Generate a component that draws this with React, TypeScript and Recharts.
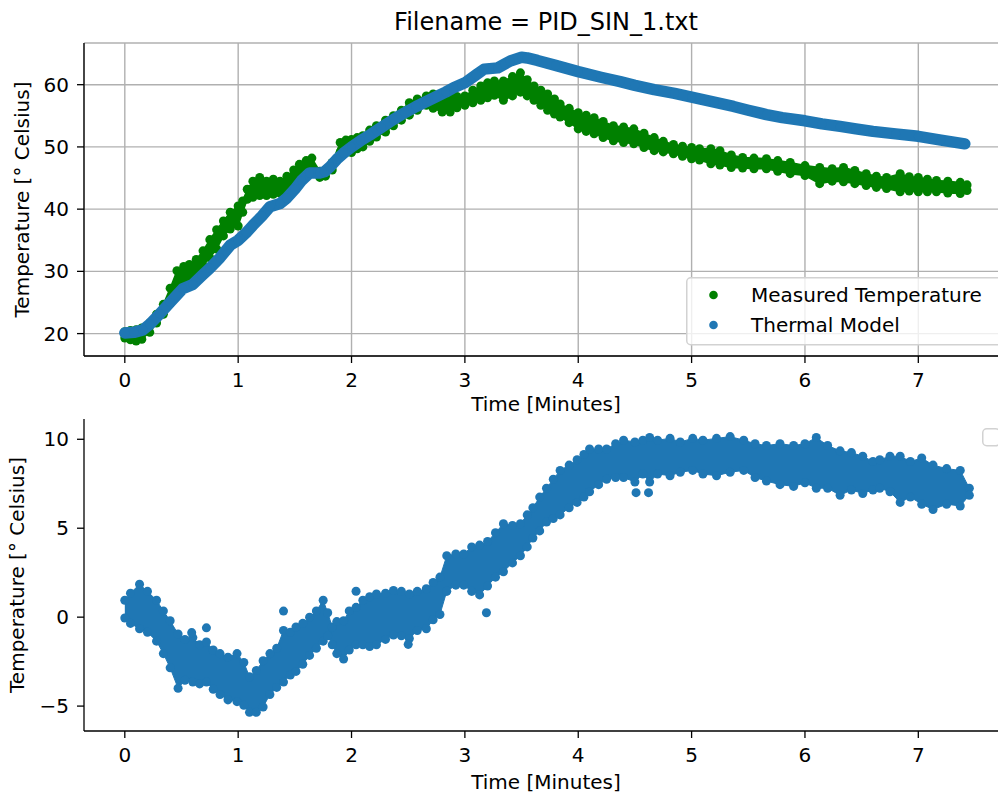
import React from 'react';
import { ComposedChart, Area, Scatter, XAxis, YAxis, CartesianGrid, Legend } from 'recharts';

const GREEN = '#008000';
const BLUE = '#1f77b4';
const FONT = "'DejaVu Sans', 'Liberation Sans', sans-serif";

// ---- data ----
const titleText = 'Filename = PID_SIN_1.txt';
const xLabel = 'Time [Minutes]';
const yLabel = 'Temperature [° Celsius]';
const seriesNames = ['Measured Temperature', 'Thermal Model'];

const timeTicks = [0, 1, 2, 3, 4, 5, 6, 7];
const tempTicks = [20, 30, 40, 50, 60];
const diffTicks = [-5, 0, 5, 10];

// measured temperature: [minutes, lower edge, upper edge] of the dense cloud
const measuredBand: [number, number, number][] = [
  [0.00, 19.3, 20.3], [0.05, 19.0, 20.5], [0.10, 18.8, 20.6], [0.15, 19.1, 20.9], [0.22, 20.2, 21.7],
  [0.28, 21.7, 23.1], [0.34, 23.1, 24.7], [0.40, 25.2, 27.3], [0.46, 27.5, 30.1], [0.52, 27.9, 30.8],
  [0.57, 28.2, 31.1], [0.63, 29.3, 31.9], [0.69, 30.9, 33.3], [0.75, 32.2, 35.1], [0.81, 33.6, 36.7],
  [0.87, 35.7, 38.1], [0.93, 36.8, 39.5], [1.00, 37.3, 40.5], [1.04, 39.5, 41.3], [1.08, 41.6, 43.2],
  [1.13, 41.9, 44.5], [1.19, 42.2, 45.1], [1.25, 42.2, 44.5], [1.31, 42.4, 44.8], [1.37, 42.6, 44.5],
  [1.43, 43.2, 45.3], [1.49, 44.3, 46.3], [1.54, 45.4, 47.2], [1.60, 46.2, 47.8], [1.65, 46.6, 48.2],
  [1.72, 45.1, 46.1], [1.77, 45.3, 46.3], [1.83, 46.3, 47.5], [1.90, 49.1, 50.7], [1.95, 49.1, 51.1],
  [2.00, 49.1, 51.2], [2.05, 49.7, 51.5], [2.10, 50.0, 51.8], [2.16, 50.9, 52.7], [2.22, 51.6, 53.4],
  [2.30, 52.4, 54.3], [2.37, 53.4, 55.0], [2.44, 54.3, 55.9], [2.51, 55.1, 57.1], [2.58, 55.9, 57.7],
  [2.66, 56.7, 58.2], [2.72, 56.2, 58.5], [2.80, 55.6, 58.3], [2.87, 55.6, 58.0], [2.93, 56.3, 58.1],
  [3.00, 56.7, 58.2], [3.07, 57.1, 59.1], [3.14, 57.5, 59.8], [3.20, 57.9, 60.3], [3.26, 58.3, 60.6],
  [3.34, 57.5, 60.6], [3.42, 58.2, 61.3], [3.49, 58.8, 61.9], [3.55, 58.2, 60.8], [3.61, 57.5, 59.8],
  [3.67, 56.7, 59.1], [3.73, 55.9, 58.5], [3.79, 55.3, 57.7], [3.84, 54.8, 56.9], [3.92, 53.9, 56.2],
  [4.00, 52.9, 55.5], [4.07, 52.5, 55.1], [4.14, 52.1, 54.7], [4.22, 51.5, 54.1], [4.31, 51.0, 53.4],
  [4.40, 50.7, 53.2], [4.49, 50.5, 52.9], [4.58, 49.9, 52.2], [4.67, 49.4, 51.5], [4.75, 49.2, 50.9],
  [4.84, 48.9, 50.4], [4.92, 48.5, 50.1], [5.00, 48.1, 49.9], [5.07, 47.9, 49.7], [5.17, 47.3, 49.7],
  [5.25, 47.1, 49.4], [5.35, 46.7, 48.7], [5.45, 46.6, 48.3], [5.55, 46.5, 48.2], [5.66, 46.5, 48.1],
  [5.76, 46.1, 47.8], [5.87, 45.7, 47.5], [6.00, 45.4, 47.0], [6.13, 44.1, 46.7], [6.24, 44.5, 46.5],
  [6.34, 44.4, 46.7], [6.44, 44.1, 46.2], [6.54, 43.8, 45.7], [6.63, 43.5, 45.3], [6.72, 43.3, 45.1],
  [6.84, 42.8, 45.7], [6.92, 42.9, 45.2], [7.00, 42.8, 45.1], [7.08, 42.8, 44.8], [7.16, 42.8, 44.6],
  [7.26, 42.6, 44.5], [7.37, 42.5, 44.3], [7.43, 43.0, 43.9],
];

// thermal model: [minutes, temperature]
const thermalModel: [number, number][] = [
  [0.00, 20.1], [0.08, 20.2], [0.16, 20.6], [0.22, 21.5], [0.31, 23.2], [0.40, 25.0], [0.51, 27.2],
  [0.60, 27.9], [0.68, 29.3], [0.75, 30.5], [0.84, 32.2], [0.93, 34.2], [1.00, 35.0], [1.07, 36.2],
  [1.13, 37.4], [1.21, 38.9], [1.28, 40.4], [1.37, 40.9], [1.43, 41.8], [1.50, 43.2], [1.56, 44.6],
  [1.63, 45.8], [1.72, 45.8], [1.76, 46.0], [1.81, 46.8], [1.87, 48.0], [1.93, 49.0], [2.00, 50.0],
  [2.08, 51.0], [2.16, 51.9], [2.26, 53.1], [2.37, 54.4], [2.47, 55.5], [2.57, 56.5], [2.66, 57.3],
  [2.75, 58.1], [2.83, 58.8], [2.90, 59.5], [3.00, 60.3], [3.10, 61.6], [3.17, 62.5], [3.29, 62.7],
  [3.35, 63.3], [3.40, 63.8], [3.50, 64.4], [3.55, 64.3], [3.64, 63.9], [3.80, 63.1], [4.00, 62.1],
  [4.20, 61.2], [4.37, 60.5], [4.50, 59.9], [4.67, 59.2], [4.85, 58.6], [5.00, 58.0], [5.20, 57.2],
  [5.37, 56.5], [5.50, 55.9], [5.66, 55.2], [5.80, 54.7], [6.00, 54.2], [6.15, 53.7], [6.31, 53.3],
  [6.45, 52.9], [6.60, 52.5], [6.80, 52.1], [7.00, 51.7], [7.20, 51.1], [7.41, 50.5],
];

// difference cloud: [minutes, lower edge, upper edge]
const diffBand: [number, number, number][] = [
  [0.00, -0.05, 0.95], [0.05, -0.35, 1.35], [0.13, -0.65, 1.85], [0.20, -0.85, 1.45], [0.28, -1.35, 0.95],
  [0.34, -2.05, 0.35], [0.40, -2.85, -0.2], [0.47, -4.0, -0.95], [0.53, -3.55, -1.25], [0.60, -3.65, -1.15],
  [0.66, -3.75, -1.55], [0.72, -3.65, -1.4], [0.78, -4.05, -1.85], [0.84, -4.35, -2.05], [0.91, -4.65, -2.25],
  [0.99, -4.75, -2.05], [1.05, -4.95, -2.55], [1.10, -5.35, -3.35], [1.16, -5.35, -3.0], [1.22, -5.05, -2.45],
  [1.28, -4.35, -2.05], [1.34, -3.95, -1.75], [1.40, -3.65, -0.75], [1.46, -3.25, -0.85], [1.51, -3.05, -0.55],
  [1.57, -2.65, -0.35], [1.63, -2.15, 0.0], [1.69, -1.75, 0.35], [1.75, -1.35, 0.95], [1.79, -1.05, 0.25],
  [1.83, -1.55, -0.55], [1.87, -2.05, -0.25], [1.93, -2.35, -0.2], [1.98, -1.85, 0.35], [2.04, -1.55, 0.55],
  [2.10, -1.55, 0.95], [2.16, -1.65, 1.15], [2.22, -1.55, 1.3], [2.30, -1.25, 1.35], [2.37, -1.0, 1.5],
  [2.44, -1.05, 1.45], [2.51, -1.2, 1.3], [2.58, -0.75, 1.45], [2.66, -0.65, 1.6], [2.72, -0.15, 1.95],
  [2.78, 0.15, 2.25], [2.84, 1.45, 3.45], [2.92, 1.8, 3.55], [2.99, 1.8, 3.55], [3.06, 1.45, 3.95],
  [3.13, 1.25, 4.05], [3.20, 1.75, 4.25], [3.27, 2.25, 4.75], [3.34, 2.55, 5.25], [3.42, 3.05, 5.15],
  [3.49, 3.45, 5.25], [3.55, 3.95, 5.75], [3.60, 4.45, 6.15], [3.66, 4.85, 6.75], [3.72, 5.35, 7.25],
  [3.78, 5.55, 7.75], [3.84, 5.75, 8.25], [3.92, 6.15, 8.55], [3.99, 6.45, 8.85], [4.05, 6.75, 9.15],
  [4.10, 7.05, 9.45], [4.18, 7.45, 9.45], [4.25, 7.75, 9.45], [4.33, 7.85, 9.75], [4.40, 7.85, 9.95],
  [4.50, 7.6, 9.85], [4.57, 8.05, 9.95], [4.63, 7.6, 10.1], [4.70, 8.05, 9.95], [4.81, 7.95, 10.05],
  [4.90, 8.15, 9.85], [5.01, 8.25, 10.05], [5.10, 8.05, 9.95], [5.22, 7.95, 10.05], [5.34, 8.15, 10.15],
  [5.46, 8.25, 9.95], [5.56, 7.85, 9.75], [5.66, 7.65, 9.65], [5.78, 7.45, 9.75], [5.90, 7.35, 9.65],
  [6.00, 7.55, 9.75], [6.10, 7.25, 10.1], [6.20, 7.25, 9.65], [6.31, 6.85, 9.35], [6.41, 7.15, 9.25],
  [6.51, 6.95, 9.05], [6.60, 7.15, 8.75], [6.66, 7.25, 8.85], [6.75, 7.05, 9.05], [6.84, 6.45, 9.05],
  [6.93, 6.75, 8.75], [7.03, 6.35, 8.95], [7.13, 6.05, 8.55], [7.25, 6.35, 8.35], [7.37, 6.25, 8.25],
  [7.45, 6.85, 7.25],
];

// isolated points of the difference cloud
const diffOutliers: [number, number][] = [
  [0.59, -0.87], [0.72, -0.6], [1.40, 0.34], [2.04, 1.46], [2.50, -1.53], [3.19, 0.25], [4.51, 7.0], [4.62, 7.0],
];

// ---- derived tables for the library ----
const measuredArea = measuredBand.map(([t, lo, hi]) => ({ t, range: [lo, hi] }));
const measuredUpper = measuredBand.map(([t, , hi]) => ({ t, v: hi }));
const measuredLower = measuredBand.map(([t, lo]) => ({ t, v: lo }));
const modelPoints = thermalModel.map(([t, v]) => ({ t, v }));
const diffArea = diffBand.map(([t, lo, hi]) => ({ t, range: [lo, hi] }));
const diffUpper = diffBand.map(([t, , hi]) => ({ t, v: hi }));
const diffLower = diffBand.map(([t, lo]) => ({ t, v: lo }));
const diffSingles = diffOutliers.map(([t, v]) => ({ t, v }));

const X_DOMAIN: [number, number] = [-0.36, 7.8];
const SPINE = { stroke: '#000', strokeWidth: 1.3 };
const TICK = { fontSize: 20, fill: '#000', fontFamily: FONT };

const txt = (x: number, y: number, s: string, size = 20, rotate = false) => (
  <text x={x} y={y} fill="#000" fontSize={size} fontFamily={FONT} textAnchor="middle"
    transform={rotate ? `rotate(-90 ${x} ${y})` : undefined}>{s}</text>
);

const minusFmt = (v: number) => (v < 0 ? `\u2212${Math.abs(v)}` : `${v}`);

const TopLegend = () => (
  <svg width={320} height={70} style={{ display: 'block', overflow: 'visible' }}>
    <rect x={0.75} y={0.75} width={318} height={67} rx={4} ry={4} fill="rgba(255,255,255,0.8)" stroke="#d2d2d2" strokeWidth={1.5} />
    <circle cx={27.5} cy={18} r={4.3} fill={GREEN} />
    <text x={65} y={24.6} fontSize={20} fontFamily={FONT} fill="#000">{seriesNames[0]}</text>
    <circle cx={27.5} cy={48} r={4.3} fill={BLUE} />
    <text x={65} y={54.6} fontSize={20} fontFamily={FONT} fill="#000">{seriesNames[1]}</text>
  </svg>
);

const EmptyLegend = () => (
  <svg width={20} height={20} style={{ display: 'block', overflow: 'visible' }}>
    <rect x={0.75} y={0.75} width={17} height={17} rx={4} ry={4} fill="rgba(255,255,255,0.8)" stroke="#d2d2d2" strokeWidth={1.5} />
  </svg>
);

const MODEL_LINE = { stroke: BLUE, strokeWidth: 11.5, strokeLinecap: 'round', strokeLinejoin: 'round' } as any;

export default function App() {
  return (
    <div style={{ position: 'absolute', left: 0, top: 0, width: 998, height: 796, overflow: 'hidden', background: '#fff', fontFamily: FONT }}>
      <div style={{ position: 'absolute', left: 0, top: 0 }}>
        <ComposedChart width={1012} height={420} data={measuredArea} margin={{ top: 43, right: 3, bottom: 34, left: 24 }}>
          <XAxis dataKey="t" type="number" domain={X_DOMAIN} allowDataOverflow ticks={timeTicks} interval={0}
            tickSize={7} tickMargin={10} tick={TICK} tickLine={SPINE} axisLine={SPINE} height={30}
            label={{ content: () => (<g>{txt(546, 411, xLabel)}{txt(546, 30, titleText, 24)}</g>) }} />
          <XAxis xAxisId="top" orientation="top" type="number" domain={X_DOMAIN} allowDataOverflow
            tick={false} tickLine={false} height={0} axisLine={SPINE} />
          <YAxis type="number" domain={[16.4, 66.7]} allowDataOverflow ticks={tempTicks} interval={0}
            tickSize={7} tickMargin={8} width={60} tick={TICK} tickLine={SPINE} axisLine={SPINE}
            label={{ content: () => txt(28.5, 199.5, yLabel, 20, true) }} />
          <Area dataKey="range" type="linear" fill={GREEN} fillOpacity={1} stroke={GREEN} strokeWidth={1.5} isAnimationActive={false} />
          <Scatter data={measuredUpper} dataKey="v" fill={GREEN} isAnimationActive={false} />
          <Scatter data={measuredLower} dataKey="v" fill={GREEN} isAnimationActive={false} />
          <Scatter data={modelPoints} dataKey="v" fill={BLUE} line={MODEL_LINE} lineType="joint" isAnimationActive={false} />
          <CartesianGrid stroke="#b0b0b0" strokeWidth={1.4} />
          <Legend layout="vertical" align="center" verticalAlign="middle" width={320} height={70}
            wrapperStyle={{ left: 686, top: 277 }} content={() => <TopLegend />} />
        </ComposedChart>
      </div>
      <div style={{ position: 'absolute', left: 0, top: 410 }}>
        <ComposedChart width={1012} height={386} data={diffArea} margin={{ top: 9, right: 3, bottom: 35, left: 24 }}>
          <XAxis dataKey="t" type="number" domain={X_DOMAIN} allowDataOverflow ticks={timeTicks} interval={0}
            tickSize={7} tickMargin={10} tick={TICK} tickLine={SPINE} axisLine={SPINE} height={30}
            label={{ content: () => txt(546, 378.5, xLabel) }} />
          <XAxis xAxisId="top" orientation="top" type="number" domain={X_DOMAIN} allowDataOverflow
            tick={false} tickLine={false} height={0} axisLine={SPINE} />
          <YAxis type="number" domain={[-6.4, 11.14]} allowDataOverflow ticks={diffTicks} interval={0}
            tickSize={7} tickMargin={8} width={60} tick={TICK} tickFormatter={minusFmt} tickLine={SPINE} axisLine={SPINE}
            label={{ content: () => txt(23.5, 165, yLabel, 20, true) }} />
          <Area dataKey="range" type="linear" fill={BLUE} fillOpacity={1} stroke={BLUE} strokeWidth={1} isAnimationActive={false} />
          <Scatter data={diffUpper} dataKey="v" fill={BLUE} isAnimationActive={false} />
          <Scatter data={diffLower} dataKey="v" fill={BLUE} isAnimationActive={false} />
          <Scatter data={diffSingles} dataKey="v" fill={BLUE} isAnimationActive={false} />
          <Legend layout="vertical" align="center" verticalAlign="middle" width={20} height={20}
            wrapperStyle={{ left: 982, top: 18 }} content={() => <EmptyLegend />} />
        </ComposedChart>
      </div>
    </div>
  );
}
